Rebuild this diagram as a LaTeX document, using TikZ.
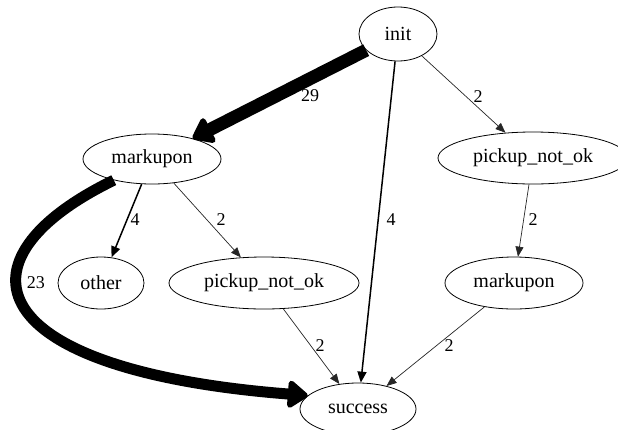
\documentclass[tikz,border=0pt]{standalone}
\usepackage{fontspec}
\setmainfont{Liberation Serif}
\newfontfamily\dotfont{Liberation Serif}
\usetikzlibrary{shapes.geometric,arrows.meta}

\begin{document}
\begin{tikzpicture}[x=1pt,y=-1pt,
  state/.style={ellipse,draw,line width=0.8pt,inner sep=0pt,font=\dotfont\fontsize{20}{24}\selectfont},
  cnt/.style={inner sep=0pt,font=\dotfont\fontsize{18}{22}\selectfont},
  edge/.style={draw=black!85,line width=0.7pt,-{Triangle[length=10pt,width=8pt]}},
  midedge/.style={line width=1.5pt,-{Triangle[length=11pt,width=9pt]}},
  heavyedge/.style={line width=#1,-{Triangle[round,length=22pt,width=31pt]}}]
\useasboundingbox (0,0) rectangle (618,429);
\node[state,minimum width=78pt,minimum height=54pt] (init) at (398,34) {init};
\node[state,minimum width=138pt,minimum height=50pt] (markL) at (152,159) {markupon};
\node[state,minimum width=190pt,minimum height=52pt] (pickR) at (533,158) {pickup\_not\_ok};
\node[state,minimum width=86pt,minimum height=52pt] (other) at (101,283) {other};
\node[state,minimum width=190pt,minimum height=52pt] (pickM) at (264,283) {pickup\_not\_ok};
\node[state,minimum width=138pt,minimum height=52pt] (markR) at (514,283) {markupon};
\node[state,minimum width=116pt,minimum height=52pt] (success) at (358,409) {success};

\node[cnt] (c29) at (310,96) {29};
\node[cnt] (c2a) at (478,97) {2};
\node[cnt] (c4a) at (391,220) {4};
\node[cnt] (c4b) at (135,220) {4};
\node[cnt] (c2b) at (221,220) {2};
\node[cnt] (c2c) at (533,220) {2};
\node[cnt] (c23) at (36,283) {23};
\node[cnt] (c2d) at (320,346) {2};
\node[cnt] (c2e) at (449,346) {2};

\draw[heavyedge=13pt] (init) -- (markL);
\draw[midedge] (init) -- (success);
\draw[edge] (init) -- (pickR);
\draw[midedge] (markL) -- (other);
\draw[edge] (markL) -- (pickM);
\draw[heavyedge=11pt] (markL.209) .. controls (-50,260) and (-20,370) .. (success.165);
\draw[edge] (pickR) -- (markR);
\draw[edge] (pickM) -- (success);
\draw[edge] (markR) -- (success);
\end{tikzpicture}
\end{document}
